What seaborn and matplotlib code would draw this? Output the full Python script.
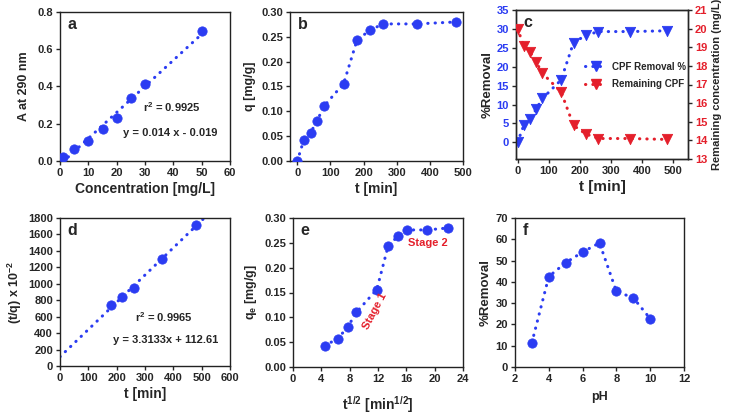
import numpy as np
import pandas as pd
import matplotlib
matplotlib.use("Agg")
import matplotlib.pyplot as plt
import seaborn as sns
from matplotlib.lines import Line2D

# ---------------- data ----------------
conc = [1, 5, 10, 15, 20, 25, 30, 50]
absorb = [0.02, 0.065, 0.105, 0.172, 0.233, 0.336, 0.415, 0.699]
cal_slope, cal_icpt = 0.014, -0.019

t_min = [0, 20, 40, 60, 80, 140, 180, 220, 260, 360, 480]
q_t = [0.0, 0.043, 0.057, 0.081, 0.110, 0.156, 0.243, 0.264, 0.276, 0.276, 0.280]

removal_pct = [0.0, 4.5, 6.1, 8.8, 11.6, 16.5, 26.4, 28.3, 29.3, 29.3, 29.5]
remaining = [20.0, 19.07, 18.75, 18.2, 17.6, 16.6, 14.8, 14.34, 14.1, 14.1, 14.05]

t_d = [180, 220, 260, 360, 480]
tq_d = [740, 835, 945, 1300, 1710]
pso_slope, pso_icpt = 3.3133, 112.61

sqrt_t = [4.47, 6.32, 7.75, 8.94, 11.83, 13.42, 14.83, 16.12, 18.97, 21.91]
q_e = [0.043, 0.057, 0.081, 0.110, 0.156, 0.243, 0.264, 0.276, 0.276, 0.280]

ph = [3, 4, 5, 6, 7, 8, 9, 10]
ph_removal = [11.5, 42.5, 49.0, 54.0, 58.3, 35.5, 32.5, 22.7]

BLUE = "#2b3cf2"
RED = "#e41f2b"

sns.set_style("ticks")
plt.rcParams["font.family"] = ["Liberation Sans", "DejaVu Sans"]
plt.rcParams["font.weight"] = "bold"
plt.rcParams["axes.labelweight"] = "bold"
plt.rcParams["mathtext.fontset"] = "custom"
plt.rcParams["mathtext.rm"] = "Liberation Sans:bold"
plt.rcParams["mathtext.it"] = "Liberation Sans:bold"
plt.rcParams["mathtext.bf"] = "Liberation Sans:bold"
plt.rcParams["axes.linewidth"] = 1.0
plt.rcParams["xtick.major.width"] = 1.0
plt.rcParams["ytick.major.width"] = 1.0
plt.rcParams["xtick.major.size"] = 3
plt.rcParams["ytick.major.size"] = 3

TICK_FS = 8
XLAB_FS = 10
YLAB_FS = 9
ANN_FS = 8
MS = 45

fig = plt.figure(figsize=(7.3, 4.16), dpi=100)
W, H = 730, 416


def ax_px(l, r, t, b):
    return fig.add_axes([l / W, (H - b) / H, (r - l) / W, (b - t) / H])


dot_kw = dict(linestyle=(0, (0.1, 2.3)), linewidth=2.2, dash_capstyle="round",
              color=BLUE)


def style(ax, letter):
    for s in ax.spines.values():
        s.set_visible(True)
        s.set_color("#222222")
    ax.tick_params(labelsize=TICK_FS, direction="out", pad=2)
    for lab in ax.get_xticklabels() + ax.get_yticklabels():
        lab.set_fontweight("bold")
    ax.text(0.045, 0.965, letter, transform=ax.transAxes, ha="left", va="top",
            fontsize=11.5, fontweight="bold")


# ---------- a ----------
ax = ax_px(60, 230, 12, 161)
xf = np.array([min(conc), max(conc)])
sns.lineplot(x=xf, y=cal_slope * xf + cal_icpt, ax=ax, **dot_kw)
sns.scatterplot(x=conc, y=absorb, ax=ax, color=BLUE, s=MS, edgecolor=BLUE, zorder=3)
ax.set_xlim(0, 60)
ax.set_ylim(0, 0.8)
ax.set_xticks(range(0, 61, 10))
ax.set_yticks([0, 0.2, 0.4, 0.6, 0.8])
ax.set_yticklabels(["0.0", "0.2", "0.4", "0.6", "0.8"])
ax.set_xlabel("Concentration [mg/L]", fontsize=XLAB_FS, labelpad=3)
ax.set_ylabel("A at 290 nm", fontsize=YLAB_FS, labelpad=5)
ax.text(0.66, 0.33, r"r$^{2}$ = 0.9925", transform=ax.transAxes, ha="center",
        fontsize=ANN_FS, fontweight="bold")
ax.text(0.65, 0.165, "y = 0.014 x - 0.019", transform=ax.transAxes, ha="center",
        fontsize=ANN_FS, fontweight="bold")
style(ax, "a")

# ---------- b ----------
ax = ax_px(290, 463, 12, 161)
sns.lineplot(x=t_min, y=q_t, ax=ax, **dot_kw)
sns.scatterplot(x=t_min, y=q_t, ax=ax, color=BLUE, s=MS, edgecolor=BLUE, zorder=3)
ax.set_xlim(-22, 500)
ax.set_ylim(0, 0.30)
ax.set_xticks(range(0, 501, 100))
ax.set_yticks(np.arange(0, 0.301, 0.05))
ax.set_yticklabels([f"{v:.2f}" for v in np.arange(0, 0.301, 0.05)])
ax.set_xlabel("t [min]", fontsize=XLAB_FS, labelpad=3)
ax.set_ylabel("q [mg/g]", fontsize=YLAB_FS, labelpad=4)
style(ax, "b")

# ---------- c ----------
ax = ax_px(516, 688, 10, 159)
ax2 = ax.twinx()
sns.lineplot(x=t_min, y=removal_pct, ax=ax, **dot_kw)
sns.scatterplot(x=t_min, y=removal_pct, ax=ax, color=BLUE, marker="v", s=55,
                edgecolor=BLUE, zorder=3)
red_kw = dict(dot_kw)
red_kw["color"] = RED
sns.lineplot(x=t_min, y=remaining, ax=ax2, **red_kw)
sns.scatterplot(x=t_min, y=remaining, ax=ax2, color=RED, marker="v", s=55,
                edgecolor=RED, zorder=3)
ax.set_xlim(-5, 548)
ax.set_ylim(-4.4, 35)
ax2.set_ylim(13, 21)
ax.set_xticks(range(0, 501, 100))
ax.set_yticks(range(0, 36, 5))
ax2.set_yticks(range(13, 22))
ax.set_xlabel("t [min]", fontsize=XLAB_FS + 1, labelpad=3)
ax.set_ylabel("%Removal", fontsize=YLAB_FS + 0.5, labelpad=2)
ax2.set_ylabel("Remaining concentration (mg/L)", fontsize=8, labelpad=3)
style(ax, "c")
ax2.tick_params(labelsize=TICK_FS, direction="out", pad=2)
for lab in ax.get_yticklabels():
    lab.set_color(BLUE)
for lab in ax2.get_yticklabels():
    lab.set_color(RED)
    lab.set_fontweight("bold")
handles = [
    Line2D([], [], marker="v", markersize=7, **dot_kw),
    Line2D([], [], marker="v", markersize=7, **red_kw),
]
ax.legend(handles, ["CPF Removal %", "Remaining CPF"], loc="center right",
          bbox_to_anchor=(1.04, 0.56), frameon=False, fontsize=7,
          handlelength=2.2, handletextpad=0.6, labelspacing=0.8)

# ---------- d ----------
ax = ax_px(60, 230, 218, 366)
xd = np.array([0, 520])
sns.lineplot(x=xd, y=pso_slope * xd + pso_icpt, ax=ax, **dot_kw)
sns.scatterplot(x=t_d, y=tq_d, ax=ax, color=BLUE, s=MS, edgecolor=BLUE, zorder=3)
ax.set_xlim(0, 600)
ax.set_ylim(0, 1800)
ax.set_xticks(range(0, 601, 100))
ax.set_yticks(range(0, 1801, 200))
ax.set_xlabel("t [min]", fontsize=XLAB_FS, labelpad=3)
ax.set_ylabel(r"(t/q) x 10$^{-2}$", fontsize=YLAB_FS, labelpad=3)
ax.text(0.61, 0.30, r"r$^{2}$ = 0.9965", transform=ax.transAxes, ha="center",
        fontsize=ANN_FS, fontweight="bold")
ax.text(0.62, 0.155, "y = 3.3133x + 112.61", transform=ax.transAxes, ha="center",
        fontsize=ANN_FS, fontweight="bold")
style(ax, "d")

# ---------- e ----------
ax = ax_px(293, 463, 218, 367)
sns.lineplot(x=sqrt_t, y=q_e, ax=ax, **dot_kw)
sns.scatterplot(x=sqrt_t, y=q_e, ax=ax, color=BLUE, s=MS, edgecolor=BLUE, zorder=3)
ax.set_xlim(0, 24)
ax.set_ylim(0, 0.30)
ax.set_xticks(range(0, 25, 4))
ax.set_yticks(np.arange(0, 0.301, 0.05))
ax.set_yticklabels([f"{v:.2f}" for v in np.arange(0, 0.301, 0.05)])
ax.set_xlabel(r"t$^{1/2}$ [min$^{1/2}$]", fontsize=XLAB_FS, labelpad=7)
ax.set_ylabel(r"q$_{\mathrm{e}}$ [mg/g]", fontsize=YLAB_FS, labelpad=4)
ax.text(11.6, 0.112, "Stage 1", color=RED, rotation=62, ha="center", va="center",
        fontsize=ANN_FS, fontweight="bold")
ax.text(19.0, 0.25, "Stage 2", color=RED, ha="center", va="center",
        fontsize=ANN_FS, fontweight="bold")
style(ax, "e")

# ---------- f ----------
ax = ax_px(515, 684, 218, 367)
sns.lineplot(x=ph, y=ph_removal, ax=ax, **dot_kw)
sns.scatterplot(x=ph, y=ph_removal, ax=ax, color=BLUE, s=MS, edgecolor=BLUE, zorder=3)
ax.set_xlim(2, 12)
ax.set_ylim(0, 70)
ax.set_xticks(range(2, 13, 2))
ax.set_yticks(range(0, 71, 10))
ax.set_xlabel("pH", fontsize=XLAB_FS - 1, labelpad=5)
ax.set_ylabel("%Removal", fontsize=YLAB_FS + 0.5, labelpad=3)
style(ax, "f")

fig.savefig("out.png", dpi=100)
